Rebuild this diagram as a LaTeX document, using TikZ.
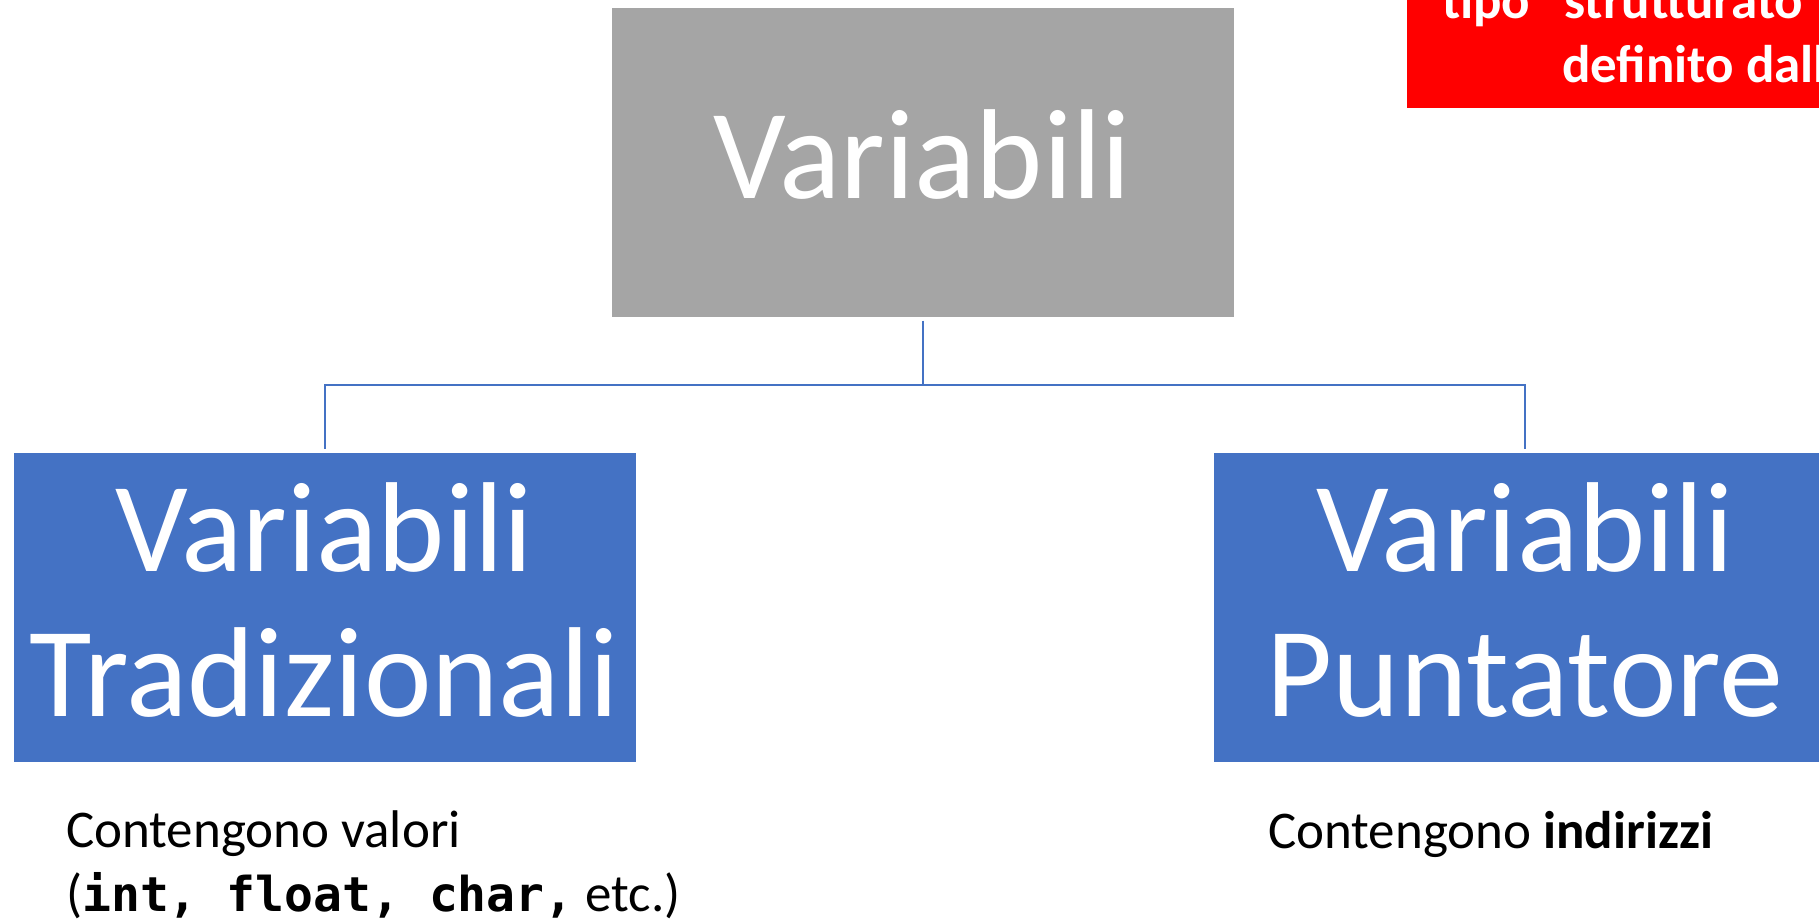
\documentclass[tikz,border=0pt]{standalone}
\usepackage{fontspec}
\setmainfont{Carlito}
\newfontfamily\codefont{DejaVu Sans Mono}
\definecolor{boxblue}{HTML}{4472C4}
\definecolor{boxgray}{HTML}{A5A5A5}
\definecolor{notered}{HTML}{FF0000}
\tikzset{
  box/.style={rectangle, draw=white, line width=1pt, inner sep=0pt,
    minimum width=623pt, minimum height=310pt},
  rootbox/.style={box, fill=boxgray},
  leafbox/.style={box, fill=boxblue},
  notebox/.style={rectangle, fill=notered, inner sep=0pt},
  boxlabel/.style={text=white, inner sep=0pt, anchor=base,
    font=\fontsize{128}{145}\selectfont},
  notelabel/.style={text=white, inner sep=0pt, anchor=base west,
    font=\fontsize{53}{64}\selectfont\bfseries},
  desc/.style={text=black, inner sep=0pt, anchor=base west,
    font=\fontsize{53}{64}\selectfont},
  conn/.style={draw=boxblue, line width=2pt},
}
\newcommand{\codeword}[1]{{\codefont\bfseries\fontsize{48}{64}\selectfont #1}}
\begin{document}
\begin{tikzpicture}[x=1pt, y=-1pt]
  \useasboundingbox (0,0) rectangle (1819,919);
  \fill[white] (0,0) rectangle (1819,919);
  \clip (0,0) rectangle (1819,919);

  % boxes of the hierarchy
  \node[rootbox] (root) at (922.5,162) {};
  \node[leafbox] (trad) at (324.5,607) {};
  \node[leafbox, minimum width=624pt] (punt) at (1525,607) {};

  % red note in the corner
  \node[notebox, minimum width=443pt, minimum height=128pt] (note) at (1628.5,44) {};

  % box titles
  \node[boxlabel] (rootT) at (922.5,198) {Variabili};
  \node[boxlabel] (tradA) at (324.5,571) {Variabili};
  \node[boxlabel] (tradB) at (324.5,716) {Tradizionali};
  \node[boxlabel] (puntA) at (1525,571) {Variabili};
  \node[boxlabel] (puntB) at (1525,716) {Puntatore};

  % note text
  \node[notelabel] (noteA) at (1442,18) {tipo “strutturato”};
  \node[notelabel] (noteB) at (1562,82) {definito dall};

  % connectors
  \coordinate (hub) at (922.5,385);
  \draw[conn] ([yshift=-3pt]root.south) -- (hub);
  \draw[conn] ([yshift=3pt]trad.north) |- (hub) -| ([yshift=3pt]punt.north);

  % descriptions below the leaves
  \node[desc] (descA) at (66,847) {Contengono valori};
  \node[desc] (descB) at (66,911) {(\codeword{int, float, char,} etc.)};
  \node[desc] (descC) at (1268,848) {Contengono \textbf{indirizzi}};
\end{tikzpicture}
\end{document}
